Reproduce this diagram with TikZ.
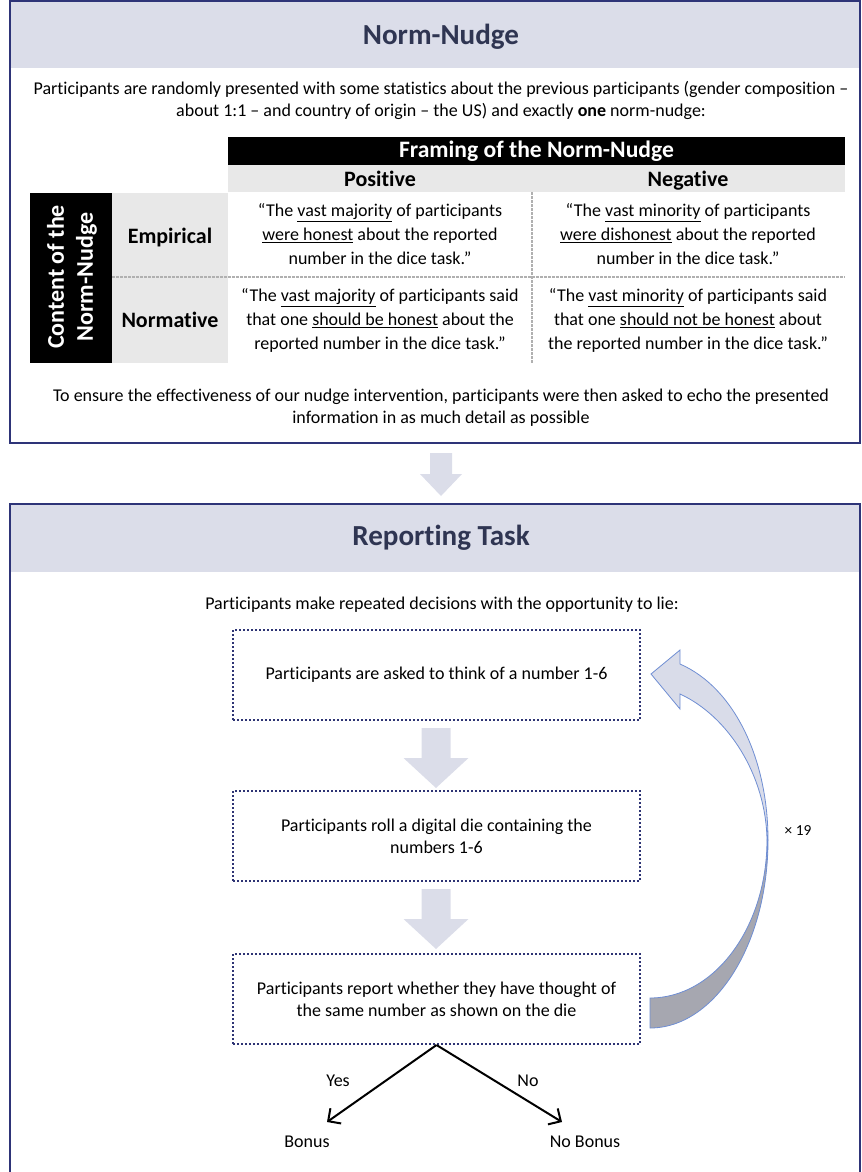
\documentclass[tikz,border=0pt]{standalone}
\usepackage{fontspec}
\setmainfont{Carlito}[Ligatures=NoCommon]
\usetikzlibrary{calc,arrows.meta}
\definecolor{band}{HTML}{DBDDE9}
\definecolor{navy}{HTML}{2E3478}
\definecolor{titlec}{HTML}{2F3552}
\definecolor{tgray}{HTML}{E8E8E8}
\definecolor{dashc}{HTML}{B0B0B0}
\definecolor{dotc}{HTML}{2E3474}
\definecolor{clight}{HTML}{D9DCE9}
\definecolor{cdark}{HTML}{A6A7B0}
\definecolor{cline}{HTML}{6F8ED3}
\tikzset{
  txt/.style={font=\fontsize{13.5}{16.5}\selectfont, align=center, inner sep=0pt},
  celltxt/.style={font=\fontsize{13.5}{18}\selectfont, align=center, inner sep=0pt},
  titletxt/.style={font=\fontsize{21.8}{24}\selectfont\bfseries, text=titlec, inner sep=0pt},
  headtxt/.style={font=\fontsize{16.5}{18}\selectfont\bfseries, inner sep=0pt},
  dotbox/.style={draw=dotc, line width=1.5pt, dash pattern=on 1.5pt off 1.5pt,
     minimum width=305.25pt, minimum height=67.5pt, align=center,
     font=\fontsize{13.5}{16.5}\selectfont},
  boxborder/.style={draw=navy, line width=1.6pt},
  dashline/.style={draw=dashc, line width=0.8pt, dash pattern=on 2pt off 1pt},
  blockarrow/.style={fill=band},
  decision/.style={draw=black, line width=1.5pt, -{Straight Barb[length=7pt,width=14pt,line width=1.5pt]}},
}
\begin{document}
\begin{tikzpicture}[x=0.75pt,y=-0.75pt]
\useasboundingbox (0,0) rectangle (862,1172);
% ---------- top box ----------
\fill[band] (10,1) rectangle (860,68);
\draw[boxborder] (10,1) rectangle (860,443);
\node[titletxt] (t1) at (441,37) {Norm-Nudge};
\node[txt] (intro) at (441,100) {Participants are randomly presented with some statistics about the previous participants (gender composition --\\about 1:1 -- and country of origin -- the US) and exactly \textbf{one} norm-nudge:};
% table
\fill[black] (228,137) rectangle (845,165);
\fill[tgray] (228,165) rectangle (845,192);
\fill[black] (30,193) rectangle (112,363);
\fill[tgray] (112,193) rectangle (228,363);
\draw[dashline] (112,277) -- (845,277);
\draw[dashline] (532,192) -- (532,363);
\node[headtxt, text=white, font=\fontsize{17.7}{19}\selectfont\bfseries] (framing) at (536.5,151) {Framing of the Norm-Nudge};
\node[headtxt, anchor=base] (pos) at (380,186) {Positive};
\node[headtxt, anchor=base] (neg) at (688,186) {Negative};
\node[headtxt, text=white, rotate=90, align=center, font=\fontsize{18}{21.7}\selectfont\bfseries] (content) at (72,277) {Content of the\\Norm-Nudge};
\node[headtxt, anchor=base] (emp) at (170,243) {Empirical};
\node[headtxt, anchor=base] (norm) at (170,327) {Normative};
\node[celltxt] (c11) at (380,234) {“The \underline{vast majority} of participants\\\underline{were honest} about the reported\\number in the dice task.”};
\node[celltxt] (c12) at (688,234) {“The \underline{vast minority} of participants\\\underline{were dishonest} about the reported\\number in the dice task.”};
\node[celltxt] (c21) at (380,320) {“The \underline{vast majority} of participants said\\that one \underline{should be honest} about the\\reported number in the dice task.”};
\node[celltxt] (c22) at (688,320) {“The \underline{vast minority} of participants said\\that one \underline{should not be honest} about\\the reported number in the dice task.”};
\node[txt] (echo) at (441,407.5) {To ensure the effectiveness of our nudge intervention, participants were then asked to echo the presented\\information in as much detail as possible};
% ---------- arrow between boxes ----------
\fill[blockarrow] (430,453) -- (452,453) -- (452,474) -- (462,474) -- (441,496) -- (420,474) -- (430,474) -- cycle;
% ---------- bottom box ----------
\fill[band] (10,504) rectangle (860,572);
\draw[boxborder] (10,1180) -- (10,504) -- (860,504) -- (860,1180);
\node[titletxt] (t2) at (441,538) {Reporting Task};
\node[txt] (rep) at (442,605) {Participants make repeated decisions with the opportunity to lie:};
\node[dotbox] (b1) at (436.5,675) {Participants are asked to think of a number 1-6};
\node[dotbox] (b2) at (436.5,836) {Participants roll a digital die containing the\\numbers 1-6};
\node[dotbox] (b3) at (436.5,999) {Participants report whether they have thought of\\the same number as shown on the die};
% block arrows between steps
\fill[blockarrow] ($(b1.south)+(-15,7)$) -- ($(b1.south)+(14,7)$) -- ($(b1.south)+(14,37)$) -- ($(b1.south)+(32,37)$) -- ($(b1.south)+(-0.5,67)$) -- ($(b1.south)+(-33,37)$) -- ($(b1.south)+(-15,37)$) -- cycle;
\fill[blockarrow] ($(b2.south)+(-15,7)$) -- ($(b2.south)+(14,7)$) -- ($(b2.south)+(14,37)$) -- ($(b2.south)+(32,37)$) -- ($(b2.south)+(-0.5,67)$) -- ($(b2.south)+(-33,37)$) -- ($(b2.south)+(-15,37)$) -- cycle;
% curved loop arrow
\filldraw[fill=cdark, draw=cline, line width=0.6pt] (650,998) .. controls (714.6,998) and (767,927) .. (767,840) -- (768,840) .. controls (768,944) and (715,1028) .. (650,1028) -- cycle;
\filldraw[fill=clight, draw=cline, line width=0.6pt] (767,840) .. controls (766,775) and (728,716) .. (680,694) -- (680,709) -- (651,674) -- (680,650) -- (680,664) .. controls (735,688) and (768,760) .. (768,840) -- cycle;
\node[font=\fontsize{11.5}{13}\selectfont, inner sep=0pt] (times) at (798,831) {× 19};
% decisions
\coordinate (yesend) at (327,1122);
\coordinate (noend) at (562,1122);
\draw[decision] (b3.south) -- (yesend);
\draw[decision] (b3.south) -- (noend);
\node[txt] (yes) at (338,1081) {Yes};
\node[txt] (no) at (528,1081) {No};
\node[txt] (bonus) at (307,1142) {Bonus};
\node[txt] (nobonus) at (585,1142) {No Bonus};
\end{tikzpicture}
\end{document}
